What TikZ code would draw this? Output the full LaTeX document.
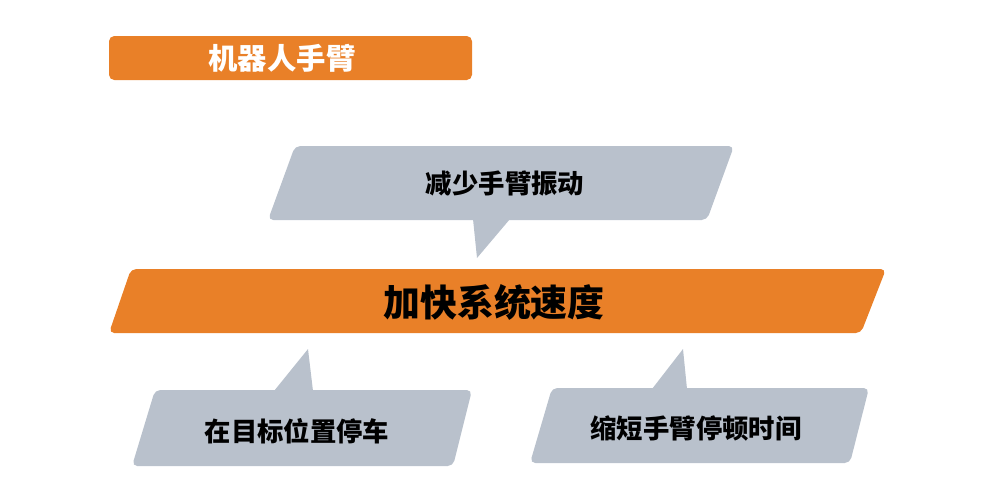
\documentclass[tikz,border=0pt]{standalone}
\usepackage{fontspec}
\newfontfamily\cjk{Noto Sans CJK SC}
\definecolor{armorange}{HTML}{E98028}
\definecolor{armgray}{HTML}{B9C1CC}
\tikzset{
  orangebar/.style={fill=armorange, rounded corners=3pt},
  graybox/.style={fill=armgray, rounded corners=3pt},
  tailtip/.style={fill=armgray},
  smalltext/.style={font=\cjk\bfseries\fontsize{15}{18}\selectfont, text=black},
  bigtext/.style={font=\cjk\bfseries\fontsize{21}{25}\selectfont, text=black},
  titletext/.style={font=\cjk\bfseries\fontsize{16.7}{20}\selectfont, text=white}
}
\begin{document}
\begin{tikzpicture}[x=0.02cm, y=-0.02cm]
    \useasboundingbox (0,0) rectangle (1000,491);

    % 标题条
    \fill[orangebar] (109,36) rectangle (472,80);
    \node[titletext] (title) at (282,58) {机器人手臂};

    % 上方气泡
    \fill[graybox] (295,146) -- (734,146) -- (707,220) -- (268,220) -- cycle;
    \fill[tailtip] (473,219) -- (477,258) -- (510,219) -- cycle;
    \node[smalltext] (top) at (505,184) {减少手臂振动};

    % 中间主条
    \fill[orangebar] (131,269) -- (886,269) -- (861,333) -- (109,333) -- cycle;
    \node[bigtext] (main) at (494,302) {加快系统速度};

    % 左下气泡
    \fill[graybox] (155,390) -- (472,390) -- (453,466) -- (132,466) -- cycle;
    \fill[tailtip] (274,391) -- (308,349) -- (313,391) -- cycle;
    \node[smalltext] (left) at (297,431) {在目标位置停车};

    % 右下气泡
    \fill[graybox] (552,388) -- (869,388) -- (850,463) -- (530,463) -- cycle;
    \fill[tailtip] (652,389) -- (683,349) -- (687,389) -- cycle;
    \node[smalltext] (right) at (696,428) {缩短手臂停顿时间};
\end{tikzpicture}
\end{document}
